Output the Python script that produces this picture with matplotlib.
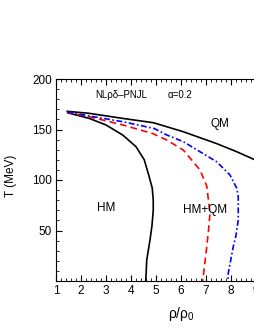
import matplotlib
matplotlib.use("Agg")
import matplotlib.pyplot as plt
from matplotlib.ticker import MultipleLocator

plt.rcParams['font.family'] = ['Liberation Sans', 'DejaVu Sans']
plt.rcParams['mathtext.fontset'] = 'custom'
plt.rcParams['mathtext.rm'] = 'Liberation Sans'
plt.rcParams['mathtext.it'] = 'Liberation Sans'
plt.rcParams['mathtext.default'] = 'regular'

# HM phase boundary (black solid, inner)
hm_rho = [1.47, 2.33, 3.0, 3.67, 4.2, 4.53, 4.73, 4.85, 4.89, 4.89, 4.84, 4.76, 4.63, 4.59]
hm_T = [166.5, 161, 154.5, 144.5, 133, 120, 103, 92, 80, 70, 55, 40.6, 20.8, 0]

# QM phase boundary (black solid, outer)
qm_rho = [1.45, 2.33, 3.67, 4.9, 6.09, 7.43, 8.23, 9.0]
qm_T = [168, 166, 161, 156.7, 147.8, 136, 128, 119.5]

# red dashed
red_rho = [1.45, 2.33, 3.67, 4.87, 5.43, 6.09, 6.76, 7.03, 7.16, 7.1, 7.03, 6.89, 6.87]
red_T = [167, 162.7, 154.5, 146, 139.6, 129.7, 110, 94, 67, 50, 34, 4.3, 0]

# blue dash-dot
blue_rho = [1.45, 2.33, 3.67, 4.93, 5.43, 6.09, 6.76, 7.43, 7.96, 8.23, 8.29, 8.29, 8.2, 8.09, 7.89, 7.88]
blue_T = [167.5, 163.4, 157.7, 151, 144.6, 138, 128, 118, 105, 91.8, 83.5, 60.4, 45, 34, 7.6, 0]

xticks = [1, 2, 3, 4, 5, 6, 7, 8, 9]
yticks = [50, 100, 150, 200]

fig = plt.figure(figsize=(2.55, 3.30), dpi=100)
ax = fig.add_axes([56/255, 1-281/330, 200/255, 202/330])

ax.plot(hm_rho, hm_T, color='black', lw=1.2)
ax.plot(qm_rho, qm_T, color='black', lw=1.2)
ax.plot(red_rho, red_T, color='red', lw=1.2, dashes=(4, 2.5))
ax.plot(blue_rho, blue_T, color='blue', lw=1.2, dashes=(3.5, 1.5, 1, 1.5))

ax.set_xlim(1, 9)
ax.set_ylim(0, 200)
ax.set_xticks(xticks)
ax.set_yticks(yticks)
ax.xaxis.set_minor_locator(MultipleLocator(0.2))
ax.yaxis.set_minor_locator(MultipleLocator(10))
ax.tick_params(which='both', direction='in', top=True, right=False, labelsize=8.5, pad=3)
ax.tick_params(which='major', length=4, width=0.8)
ax.tick_params(which='minor', length=2, width=0.6)
ax.spines['right'].set_visible(False)

ax.set_xlabel(r'$\rho/\rho_0$', fontsize=10)
ax.xaxis.set_label_coords((181-56)/200, -0.12)
ax.set_ylabel('T (MeV)', fontsize=8.5)
ax.yaxis.set_label_coords(-(56-17)/200, 0.52)

ax.text(1.0 + (95-56)/25, 184, 'NLρδ–PNJL', fontsize=7, va='center', ha='left')
ax.text(1.0 + (168-56)/25, 184, 'α=0.2', fontsize=7, va='center', ha='left')
ax.text(7.56, 155, 'QM', fontsize=8.5, ha='center', va='center')
ax.text(3.0, 72, 'HM', fontsize=8.5, ha='center', va='center')
ax.text(6.98, 70, 'HM+QM', fontsize=8.5, ha='center', va='center')

fig.savefig('out.png', dpi=100)
